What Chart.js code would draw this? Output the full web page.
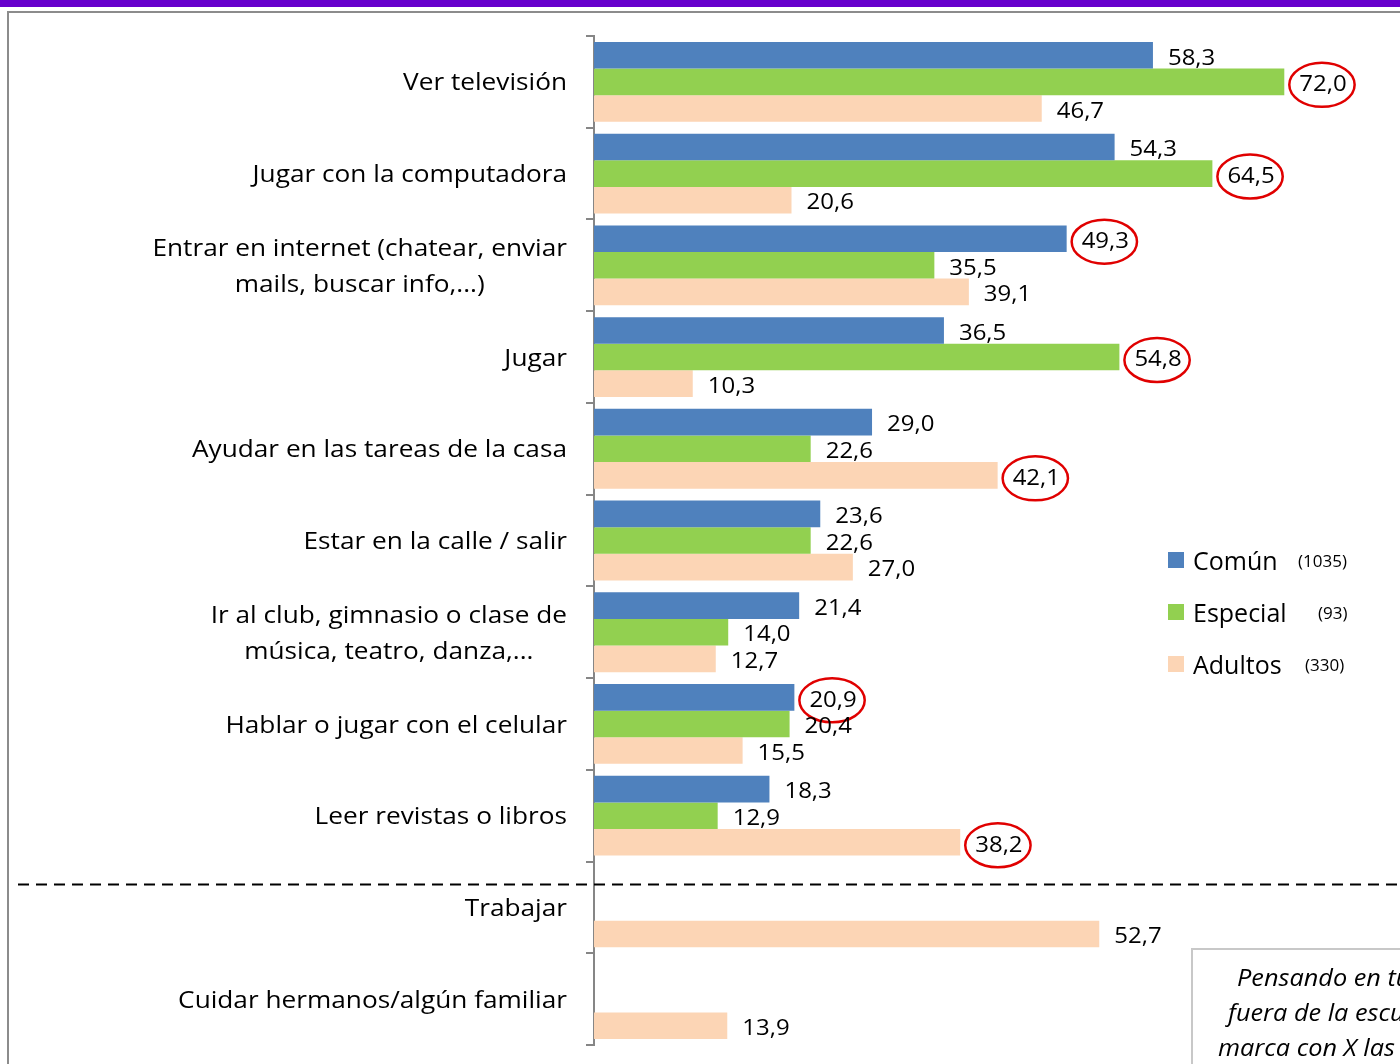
<!DOCTYPE html>
<html>
<head>
<meta charset="utf-8">
<script src="https://cdn.jsdelivr.net/npm/chart.js@4.4.0/dist/chart.umd.min.js"></script>
<style>
  html, body { margin: 0; padding: 0; background: #fff; overflow: hidden; }
  body { width: 1400px; height: 1064px; position: relative; font-family: "Open Sans", sans-serif; }
  #banda { position: absolute; left: 0; top: 0; width: 1400px; height: 7px; background: #6600cc; }
  #marco { position: absolute; left: 7px; top: 11px; width: 1500px; height: 1200px; border: 2px solid #8c8c8c; }
  #wrap { position: absolute; left: 0; top: 0; width: 1400px; height: 1064px; }
  .ley { position: absolute; left: 1168px; height: 30px; color: #000; white-space: nowrap; }
  .ley span.cuadro { position: absolute; left: 0; top: 7px; width: 16px; height: 16px; }
  .ley span.nom { position: absolute; left: 25px; top: 0; font-size: 25px; line-height: 30px; }
  .ley span.n { position: absolute; top: 5px; font-size: 17px; line-height: 22px; }
  #nota { position: absolute; left: 1191px; top: 948px; width: 500px; height: 300px; border: 2px solid #c8c8c8; }
  .linea { position: absolute; font-style: italic; font-size: 23px; white-space: nowrap; color: #000;
           transform: scaleX(1.1); transform-origin: left center; }
</style>
</head>
<body>
<div id="banda"></div>
<div id="marco"></div>
<div id="wrap"><canvas id="actividadesChart"></canvas></div>

<div class="ley" style="top:545px"><span class="cuadro" style="background:#4f81bd"></span><span class="nom">Común</span><span class="n" style="left:130px">(1035)</span></div>
<div class="ley" style="top:597px"><span class="cuadro" style="background:#92d050"></span><span class="nom">Especial</span><span class="n" style="left:150px">(93)</span></div>
<div class="ley" style="top:649px"><span class="cuadro" style="background:#fcd5b5"></span><span class="nom">Adultos</span><span class="n" style="left:137px">(330)</span></div>

<div id="nota"></div>
<div class="linea" style="left:1237px; top:961px">Pensando en tu tiempo libre,</div>
<div class="linea" style="left:1228px; top:996px">fuera de la escuela, ¿qué haces?</div>
<div class="linea" style="left:1218px; top:1031px">marca con X las actividades</div>

<script>
const categorias = [
    ['Ver televisión'],
    ['Jugar con la computadora'],
    ['Entrar en internet (chatear, enviar', 'mails, buscar info,...)'],
    ['Jugar'],
    ['Ayudar en las tareas de la casa'],
    ['Estar en la calle / salir'],
    ['Ir al club, gimnasio o clase de', 'música, teatro, danza,...'],
    ['Hablar o jugar con el celular'],
    ['Leer revistas o libros'],
    ['Trabajar'],
    ['Cuidar hermanos/algún familiar']
];
const comun    = [58.3, 54.3, 49.3, 36.5, 29.0, 23.6, 21.4, 20.9, 18.3, null, null];
const especial = [72.0, 64.5, 35.5, 54.8, 22.6, 22.6, 14.0, 20.4, 12.9, null, null];
const adultos  = [46.7, 20.6, 39.1, 10.3, 42.1, 27.0, 12.7, 15.5, 38.2, 52.7, 13.9];

// valores marcados con un círculo rojo
const marcadosComun    = [2, 7];
const marcadosEspecial = [0, 1, 3];
const marcadosAdultos  = [4, 8];
const marcados = [marcadosComun, marcadosEspecial, marcadosAdultos];

const fuente = '"Open Sans", Lato, sans-serif';

// texto un poco estirado a lo ancho, como en el original
function textoAncho(ctx, txt, x, y, sx) {
    ctx.save();
    ctx.translate(x, y);
    ctx.scale(sx, 1);
    ctx.fillText(txt, 0, 0);
    ctx.restore();
}

const plugEtiquetas = {
    id: 'plugEtiquetas',
    afterDatasetsDraw(chart) {
        const ctx = chart.ctx;
        const y = chart.scales.y;
        const area = chart.chartArea;
        ctx.save();

        // etiquetas de categorías (bloque alineado a la derecha, líneas centradas)
        const sxCat = 1.14;
        ctx.font = '23px ' + fuente;
        ctx.fillStyle = '#000';
        ctx.textBaseline = 'middle';
        ctx.textAlign = 'center';
        const xDer = area.left - 27;
        categorias.forEach((lineas, i) => {
            const yc = y.getPixelForValue(i) + 2;
            const ancho = Math.max(...lineas.map(l => ctx.measureText(l).width)) * sxCat;
            const alto = 36;
            lineas.forEach((l, k) => {
                textoAncho(ctx, l, xDer - ancho / 2, yc + (k - (lineas.length - 1) / 2) * alto, sxCat);
            });
        });

        // valores al final de las barras
        const sxVal = 1.09;
        ctx.font = '22px ' + fuente;
        ctx.textAlign = 'left';
        chart.data.datasets.forEach((ds, d) => {
            const meta = chart.getDatasetMeta(d);
            meta.data.forEach((bar, i) => {
                const v = ds.data[i];
                if (v === null) return;
                const txt = v.toFixed(1).replace('.', ',');
                const tx = bar.x + 15;
                const ty = bar.y + 3;
                ctx.fillStyle = '#000';
                textoAncho(ctx, txt, tx, ty, sxVal);
                if (marcados[d].includes(i)) {
                    const w = ctx.measureText(txt).width * sxVal;
                    ctx.beginPath();
                    ctx.ellipse(tx + w / 2 - 1, ty, w / 2 + 9, 22, 0, 0, Math.PI * 2);
                    ctx.strokeStyle = '#e00000';
                    ctx.lineWidth = 2.5;
                    ctx.stroke();
                }
            });
        });

        // línea de corte punteada
        const paso = y.getPixelForValue(9) - y.getPixelForValue(8);
        const yLinea = Math.round(y.getPixelForValue(8) + paso * 0.745) + 0.5;
        ctx.beginPath();
        ctx.setLineDash([11, 7]);
        ctx.moveTo(18, yLinea);
        ctx.lineTo(1400, yLinea);
        ctx.strokeStyle = '#000';
        ctx.lineWidth = 2;
        ctx.stroke();
        ctx.restore();
    }
};

const ctx = document.getElementById('actividadesChart').getContext('2d');
new Chart(ctx, {
    type: 'bar',
    data: {
        labels: categorias.map(c => c.join(' ')),
        datasets: [
            { label: 'Común', data: comun, backgroundColor: '#4f81bd' },
            { label: 'Especial', data: especial, backgroundColor: '#92d050' },
            { label: 'Adultos', data: adultos, backgroundColor: '#fcd5b5' }
        ]
    },
    options: {
        indexAxis: 'y',
        responsive: true,
        maintainAspectRatio: false,
        animation: false,
        datasets: { bar: { categoryPercentage: 0.87, barPercentage: 1.0, borderWidth: 0 } },
        layout: { padding: { left: 586, top: 36, bottom: 19, right: 39 } },
        plugins: { legend: { display: false }, tooltip: { enabled: false } },
        scales: {
            x: { display: false, min: 0, max: 80 },
            y: {
                ticks: { display: false },
                grid: { drawOnChartArea: false, drawTicks: true, tickLength: 8, color: '#868686', lineWidth: 2 },
                border: { color: '#868686', width: 2 }
            }
        }
    },
    plugins: [plugEtiquetas]
});
</script>
</body>
</html>
